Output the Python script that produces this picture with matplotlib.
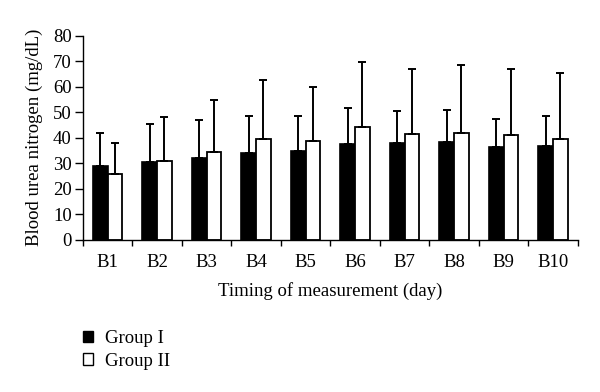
import matplotlib
matplotlib.use("Agg")
import matplotlib.pyplot as plt
import numpy as np
from matplotlib.patches import Patch

categories = ["B1", "B2", "B3", "B4", "B5", "B6", "B7", "B8", "B9", "B10"]
group1_mean = [29.0, 30.7, 32.0, 33.9, 35.0, 37.6, 37.9, 38.2, 36.3, 36.6]
group1_top = [41.8, 45.5, 46.8, 48.4, 48.4, 51.5, 50.3, 50.8, 47.2, 48.6]
group2_mean = [26.0, 30.9, 34.4, 39.6, 38.9, 44.4, 41.4, 41.8, 41.0, 39.6]
group2_top = [37.9, 48.0, 54.8, 62.6, 59.7, 69.7, 67.1, 68.5, 67.1, 65.5]
yticks = [0, 10, 20, 30, 40, 50, 60, 70, 80]

plt.rcParams['font.family'] = ['Liberation Serif', 'DejaVu Serif']
FS = 13.5

fig = plt.figure(figsize=(6, 3.92), dpi=100)
ax = fig.add_axes([0.138, 0.388, 0.825, 0.521])

x = np.arange(len(categories))
w = 0.3
g1 = np.array(group1_mean); g2 = np.array(group2_mean)
e1 = np.array(group1_top) - g1
e2 = np.array(group2_top) - g2

ax.bar(x - w/2, g1, w, color='black', edgecolor='black', linewidth=1.2, zorder=2)
ax.bar(x + w/2, g2, w, color='white', edgecolor='black', linewidth=1.3, zorder=2)
ax.errorbar(x - w/2, g1, yerr=[np.zeros_like(e1), e1], fmt='none', ecolor='black',
            elinewidth=1.4, capsize=3, capthick=1.4, zorder=3)
ax.errorbar(x + w/2, g2, yerr=[np.zeros_like(e2), e2], fmt='none', ecolor='black',
            elinewidth=1.4, capsize=3, capthick=1.4, zorder=3)

ax.set_xlim(-0.5, len(categories) - 0.5)
ax.set_ylim(0, 80)
ax.set_yticks(yticks)
ax.set_xticks(x)
ax.set_xticklabels(categories, fontsize=FS)
ax.set_xticks(np.arange(len(categories) + 1) - 0.5, minor=True)
ax.tick_params(axis='x', which='major', length=0, pad=10)
ax.tick_params(axis='x', which='minor', length=4, width=1, direction='out')
ax.tick_params(axis='y', labelsize=FS, length=6, width=1, direction='out', pad=2)
for s in ['top', 'right']:
    ax.spines[s].set_visible(False)
ax.spines['left'].set_linewidth(1)
ax.spines['bottom'].set_linewidth(1)

ax.set_ylabel("Blood urea nitrogen (mg/dL)", fontsize=FS, labelpad=7)
ax.set_xlabel("Timing of measurement (day)", fontsize=FS, labelpad=8)

handles = [Patch(facecolor='black', edgecolor='black', label='Group I'),
           Patch(facecolor='white', edgecolor='black', label='Group II')]
fig.legend(handles=handles, loc='upper left', bbox_to_anchor=(0.138, 0.158),
           frameon=False, fontsize=FS, handlelength=0.55, handleheight=0.55,
           handletextpad=0.65, labelspacing=0.3, borderaxespad=0, borderpad=0)

fig.savefig("out.png", dpi=100)
